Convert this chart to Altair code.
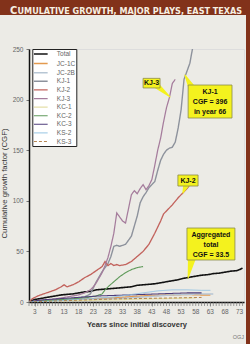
import altair as alt
import pandas as pd

# ---------------- data ----------------
series_names = ["Total", "JC-1C", "JC-2B", "KJ-1", "KJ-2", "KJ-3",
                "KC-1", "KC-2", "KC-3", "KS-2", "KS-3"]
series_colors = ["#111111", "#e39a4f", "#b7c6d4", "#8d929c", "#c2625c", "#a57c9c",
                 "#e4dfa8", "#5f9a5a", "#4e3c7a", "#8fc0e2", "#b0783e"]
series_dash = [[1, 0], [1, 0], [1, 0], [1, 0], [1, 0], [1, 0],
               [1, 0], [1, 0], [1, 0], [1, 0], [3, 2]]
series_width = [1.6, 0.9, 0.9, 0.9, 0.9, 0.9, 0.9, 0.9, 0.9, 0.9, 0.9]

total_years = [1, 2, 3, 4, 5, 6, 8, 10, 12, 14, 16, 18, 20, 22, 24, 26, 28, 30, 32, 34, 36, 38,
               40, 42, 44, 46, 48, 50, 52, 54, 56, 58, 60, 62, 64, 66, 68, 70, 72, 73, 74]
total_vals = [0, 1.5, 2.5, 3, 3.5, 4, 5, 6, 7, 7.5, 8, 9, 10, 10.5, 12, 12.5, 13, 13.5, 14, 14.5,
              15, 16.5, 17, 17.5, 18, 19, 20, 21, 22, 23.5, 24.5, 25.5, 26.5, 27, 28, 28.5,
              29.5, 30.5, 31, 32, 33.5]

jc1c_years = [1, 5, 10, 15, 20, 25, 30, 35, 40, 45, 50, 55, 60, 63]
jc1c_vals = [0, 1, 1.5, 2, 3, 3.5, 4, 5, 6, 6.5, 7, 7.5, 7, 7]

jc2b_years = [1, 10, 20, 30, 40, 50, 60, 64]
jc2b_vals = [0, 1, 2, 3, 5, 7, 8, 8]

kj1_years = [1, 4, 8, 12, 16, 20, 22, 24, 25, 26, 28, 29, 30, 31, 32, 34, 36, 37, 38, 39, 40,
             41, 42, 43, 44, 45, 46, 47, 48, 49, 50, 51, 52, 53, 54, 55, 56, 57, 60, 63, 66]
kj1_vals = [0, 1, 2, 2.5, 3, 5, 8, 20, 25, 30, 38, 45, 55, 56, 55, 57, 65, 75, 85, 98, 104,
            108, 113, 116, 119, 130, 140, 146, 150, 152, 153, 158, 172, 190, 220, 228, 236,
            252, 300, 350, 396]

kj2_years = [1, 2, 4, 6, 8, 10, 12, 13, 14, 16, 18, 20, 22, 24, 26, 27, 28, 29, 30, 31, 32,
             34, 36, 38, 40, 42, 44, 46, 47, 48, 50, 52, 54, 55, 56]
kj2_vals = [0, 3, 6, 8, 10, 12, 15, 17, 15, 17, 20, 24, 27, 31, 35, 40, 36, 38, 36, 37, 36,
            37, 40, 45, 50, 57, 68, 80, 87, 90, 96, 103, 109, 112, 116]

kj3_years = [1, 4, 8, 12, 16, 18, 20, 22, 23, 24, 25, 26, 27, 28, 29, 30, 31, 32, 33, 34, 35,
             36, 37, 38, 39, 40, 41, 42, 43, 44, 45, 46, 47, 48, 49, 50, 51]
kj3_vals = [0, 1, 2, 4, 6, 7, 9, 12, 15, 19, 24, 29, 36, 44, 55, 68, 88, 84, 80, 78, 92,
            106, 110, 107, 112, 116, 111, 115, 121, 135, 150, 162, 178, 192, 202, 216, 220]

kc1_years = [1, 10, 20, 30, 40, 50, 58]
kc1_vals = [0, 1, 1.5, 2, 3, 3.5, 4]

kc2_years = [1, 5, 10, 15, 20, 24, 26, 27, 28, 30, 32, 34, 36, 38, 40]
kc2_vals = [0, 1, 2, 3, 4, 6, 8, 12, 15, 20, 25, 29, 32, 34, 35]

kc3_years = [1, 5, 10, 15, 20, 25, 30, 35, 40, 45, 50, 55, 60]
kc3_vals = [0, 2, 3, 4, 5, 6, 6.5, 7, 7.5, 8, 8.5, 9, 9]

ks2_years = [1, 10, 20, 30, 35, 40, 45, 50, 55, 60, 63]
ks2_vals = [0, 1, 3, 5, 7, 9, 11, 12, 12, 11.5, 11.5]

ks3_years = [1, 10, 20, 30, 40, 50, 60]
ks3_vals = [0, 1, 2, 3, 3.5, 4, 4.5]

x_label_values = [3, 8, 13, 18, 23, 28, 33, 38, 43, 48, 53, 58, 63, 68, 73]
x_minor_ticks = list(range(1, 75))
y_tick_values = [0, 50, 100, 150, 200, 250]

# callout boxes (data coordinates)
box_x1 = [40, 55.4, 51.9, 55]
box_x2 = [45.8, 70.4, 58.8, 71.4]
box_y1 = [211.5, 181.8, 114.6, 41.5]
box_y2 = [221, 214.4, 125.5, 73.1]

ann_text = ["KJ-3", "KJ-1", "CGF = 396", "in year 66", "KJ-2", "Aggregated", "total", "CGF = 33.5"]
ann_text_x = [42.9, 62.9, 62.9, 62.9, 55.35, 63.2, 63.2, 63.2]
ann_text_y = [216.3, 207.5, 197.6, 187.7, 120, 66.2, 56.3, 46.4]

pointer_group = [0, 0, 1, 1, 2, 2, 3, 3]
pointer_x = [44.8, 49.2, 56.7, 54.3, 54.7, 53.6, 56.7, 55.4]
pointer_y = [213.4, 202.6, 211.5, 224.3, 115.6, 107.7, 43.5, 23.7]
pointer_w = [6, 0, 7, 0, 6, 0, 8, 0]

# ---------------- tables ----------------
rows = []
for name, yrs, vals in [("Total", total_years, total_vals), ("JC-1C", jc1c_years, jc1c_vals),
                        ("JC-2B", jc2b_years, jc2b_vals), ("KJ-1", kj1_years, kj1_vals),
                        ("KJ-2", kj2_years, kj2_vals), ("KJ-3", kj3_years, kj3_vals),
                        ("KC-1", kc1_years, kc1_vals), ("KC-2", kc2_years, kc2_vals),
                        ("KC-3", kc3_years, kc3_vals), ("KS-2", ks2_years, ks2_vals),
                        ("KS-3", ks3_years, ks3_vals)]:
    for yr, v in zip(yrs, vals):
        rows.append({"series": name, "year": yr, "cgf": v})
lines_df = pd.DataFrame(rows)

boxes_df = pd.DataFrame({"x1": box_x1, "x2": box_x2, "y1": box_y1, "y2": box_y2})
text_df = pd.DataFrame({"t": ann_text, "x": ann_text_x, "y": ann_text_y})
ptr_df = pd.DataFrame({"g": pointer_group, "x": pointer_x, "y": pointer_y, "w": pointer_w,
                       "o": list(range(len(pointer_x)))})
minor_df = pd.DataFrame({"year": x_minor_ticks})
xlab_df = pd.DataFrame({"year": x_label_values, "lab": [str(v) for v in x_label_values]})

PANEL = "#ecebe6"
BROWN = "#82321a"
YELLOW = "#f4f21e"
TITLE_FONT = "Liberation Sans Narrow, DejaVu Sans Condensed, Arial Narrow, Liberation Sans, sans-serif"
W, H = 215, 253

xscale = alt.Scale(domain=[1, 74.5], nice=False, zero=False)
yscale = alt.Scale(domain=[0, 250], nice=False)

x_axis = alt.Axis(values=x_label_values, labels=False, title="Years since initial discovery",
                  grid=False, tickSize=4, tickColor="#777", tickWidth=0.7,
                  titleFontSize=7.5, titleFontWeight="bold",
                  titleColor="#333", titlePadding=14, domainColor="#111", domainWidth=1.5)
y_axis = alt.Axis(values=y_tick_values, title="Cumulative growth factor (CGF)", grid=False,
                  tickSize=3, tickColor="#777", labelFontSize=6.5, labelColor="#666",
                  labelPadding=3, titleFontSize=7.8, titleFontWeight="normal", titleColor="#333",
                  titleX=-21, titleY=134, domainColor="#111", domainWidth=1.5)

legend = alt.Legend(orient="none", legendX=3.3, legendY=0, title=None, symbolType="M-2.5,0H2.5",
                    symbolSize=30, symbolStrokeWidth=1, symbolOffset=3.5, labelOffset=12,
                    labelFontSize=6.5, labelColor="#666", rowPadding=1.6, padding=1,
                    fillColor="#ffffff", strokeColor="#222")

lines = alt.Chart(lines_df).mark_line(clip=True).encode(
    x=alt.X("year:Q", scale=xscale, axis=x_axis),
    y=alt.Y("cgf:Q", scale=yscale, axis=y_axis),
    stroke=alt.Stroke("series:N", scale=alt.Scale(domain=series_names, range=series_colors),
                      sort=series_names, legend=legend),
    strokeDash=alt.StrokeDash("series:N", scale=alt.Scale(domain=series_names, range=series_dash),
                              sort=series_names, legend=legend),
    strokeWidth=alt.StrokeWidth("series:N", scale=alt.Scale(domain=series_names, range=series_width),
                                legend=None),
    order="year:Q",
)

minor = alt.Chart(minor_df).mark_rule(color="#777", strokeWidth=0.7).encode(
    x="year:Q", y=alt.value(H), y2=alt.value(H + 4))

xlabels = alt.Chart(xlab_df).mark_text(fontSize=6.5, color="#666", baseline="top",
                                       align="center").encode(
    x="year:Q", y=alt.value(H + 7), text="lab:N")

boxes = alt.Chart(boxes_df).mark_rect(fill=YELLOW, stroke="#8c8a4a", strokeWidth=0.8).encode(
    x="x1:Q", x2="x2:Q", y="y1:Q", y2="y2:Q")

pointers = alt.Chart(ptr_df).mark_trail(color=YELLOW).encode(
    x="x:Q", y="y:Q", detail="g:N", order="o:Q",
    size=alt.Size("w:Q", scale=None, legend=None))

texts = alt.Chart(text_df).mark_text(fontSize=7, fontWeight="bold", color="#111",
                                     baseline="middle", align="center").encode(
    x="x:Q", y="y:Q", text="t:N")

# decoration outside plot area (pixel positions relative to plot origin)
deco = alt.Chart(pd.DataFrame({"k": [0]}))
top_band = deco.mark_rect(color=BROWN).encode(
    x=alt.value(-29), x2=alt.value(W + 6), y=alt.value(-49), y2=alt.value(-34))
right_band = deco.mark_rect(color=BROWN).encode(
    x=alt.value(W + 2), x2=alt.value(W + 6), y=alt.value(-49), y2=alt.value(H + 42))
title_c = deco.mark_text(text="C", fontSize=11, fontWeight="bold", color="#f6efe2", align="left",
                         baseline="alphabetic", font=TITLE_FONT
                         ).encode(x=alt.value(-19), y=alt.value(-35.5))
title_rest = deco.mark_text(text="UMULATIVE GROWTH, MAJOR PLAYS, EAST TEXAS", fontSize=9,
                            fontWeight="bold", color="#f6efe2", align="left", baseline="alphabetic",
                            font=TITLE_FONT
                            ).encode(x=alt.value(-11.5), y=alt.value(-35.5))
ogj = deco.mark_text(text="OGJ", fontSize=5.5, color="#777", align="right").encode(
    x=alt.value(W), y=alt.value(H + 35))

chart = alt.layer(lines, minor, xlabels, pointers, boxes, texts, top_band, right_band,
                  title_c, title_rest, ogj
                  ).properties(
    width=W, height=H,
    autosize=alt.AutoSizeParams(type="none"),
    padding={"left": 29, "top": 49, "right": 6, "bottom": 42},
    background=PANEL,
).configure_view(fill="#fffef1", stroke="#666", strokeWidth=1
).configure(font="Liberation Sans")

chart.save("out.html", embed_options={"renderer": "svg", "actions": False})
